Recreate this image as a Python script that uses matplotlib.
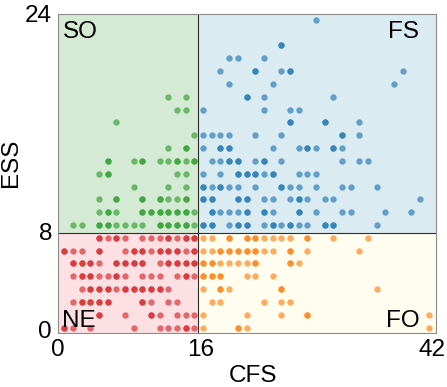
import matplotlib
matplotlib.use("Agg")
import matplotlib.pyplot as plt
from matplotlib.patches import Rectangle
import numpy as np

plt.rcParams['font.family'] = ['Liberation Sans', 'DejaVu Sans']

# rows of (ESS, list of CFS values); a repeated CFS means two people share the point
so_rows = [
    (8, [1, 2, 4, 4, 5, 5, 6, 7, 8, 9, 11, 11, 12, 12, 13, 13, 14, 14, 15]),
    (9, [4, 5, 5, 6, 9, 9, 10, 10, 11, 11, 12, 12, 13, 13, 14, 14, 15]),
    (10, [4, 6, 6, 9, 9, 11, 11, 12, 13, 14, 14]),
    (11, [8, 12, 14]),
    (12, [4, 5, 5, 13, 14]),
    (13, [5, 5, 8, 9, 9, 11, 12, 13, 13, 14, 15, 15]),
    (14, [12, 14, 14]),
    (15, [15]),
    (16, [6]),
    (17, [13, 14]),
    (18, [12, 14]),
]
fs_rows = [
    (8, [16, 16, 17, 17, 19, 20, 20, 21, 21, 23, 24, 24, 25, 26, 26, 27, 28, 30, 30, 31, 31, 36]),
    (9, [17, 17, 18, 19, 20, 21, 21, 23, 23, 24, 27, 27, 29, 32, 33, 37, 40]),
    (10, [16, 16, 17, 17, 20, 20, 21, 21, 23, 24, 26, 27, 27, 28, 30, 31, 41]),
    (11, [16, 16, 17, 18, 18, 19, 20, 22, 25, 25, 26, 27, 29, 32, 33, 36]),
    (12, [16, 18, 20, 20, 21, 21, 22, 22, 23, 24, 24, 27, 28, 29]),
    (13, [17, 18, 19, 19, 20, 20, 22, 23, 23, 25, 32, 34, 35]),
    (14, [16, 18, 18, 19, 19, 24, 27, 28, 28, 29, 31, 31, 32]),
    (15, [16, 17, 18, 19, 22, 25, 32, 32, 34]),
    (16, [26, 26, 30, 30, 34]),
    (17, [16, 23, 26, 27]),
    (18, [21, 21, 23, 31]),
    (19, [19, 24, 38]),
    (20, [18, 22, 22, 25, 26, 26, 39]),
    (21, [19, 20, 23]),
    (22, [25, 25]),
    (24, [29]),
]
ne_rows = [
    (0, [0, 0, 1, 3, 8, 11, 12, 13, 14, 14, 15]),
    (1, [4, 4, 7, 10, 10, 11, 13, 14, 15]),
    (2, [1, 2, 2, 3, 3, 4, 4, 5, 5, 9, 9, 10, 12, 13]),
    (3, [2, 3, 3, 4, 4, 5, 5, 6, 7, 7, 8, 8, 9, 9, 10, 10, 11, 11, 12]),
    (4, [1, 2, 2, 3, 3, 4, 5, 6, 6, 7, 9, 10, 11, 13, 14, 14, 15]),
    (5, [1, 1, 2, 2, 3, 3, 4, 6, 6, 7, 7, 8, 8, 9, 9, 11, 12, 12, 13, 13, 14, 14, 15, 15]),
    (6, [0, 0, 1, 2, 4, 4, 7, 8, 8, 9, 9, 10, 11, 11, 12, 12, 13, 13, 14, 15, 15]),
    (7, [4, 4, 5, 6, 6, 7, 9, 10, 11, 12, 12, 13, 14, 14, 15, 15]),
]
fo_rows = [
    (0, [16, 20, 20, 21, 42]),
    (1, [16, 21, 25, 28, 28, 42]),
    (2, [17, 18, 23, 25, 26]),
    (3, [16, 18, 18, 19, 25, 25, 36]),
    (4, [16, 16, 17, 17, 18, 18, 21, 22, 24]),
    (5, [16, 16, 17, 17, 18, 19, 20, 21, 22, 22, 26, 26, 27]),
    (6, [16, 17, 18, 18, 19, 19, 20, 20, 21, 21, 22, 22, 23, 24, 26, 26, 28, 34]),
    (7, [16, 17, 19, 19, 21, 21, 22, 22, 23, 24, 25, 26, 28, 28, 31, 35]),
]

quadrants = [
    ('SO', so_rows, '#2ca02c', '#d5ead4'),
    ('FS', fs_rows, '#1f77b4', '#dbebf2'),
    ('NE', ne_rows, '#d62728', '#fde0e4'),
    ('FO', fo_rows, '#ff7f0e', '#fffdf0'),
]

x0, x1 = -0.78, 42.78
y0, y1 = -0.42, 24.45
xcut, ycut = 15.46, 7.39

fig = plt.figure(figsize=(4.47, 3.87), dpi=100)
ax = fig.add_axes([57.5 / 447, 1 - 333 / 387, 378 / 447, 319 / 387])
ax.set_xlim(x0, x1)
ax.set_ylim(y0, y1)

# quadrant backgrounds
spans = {
    'SO': (x0, ycut, xcut - x0, y1 - ycut),
    'FS': (xcut, ycut, x1 - xcut, y1 - ycut),
    'NE': (x0, y0, xcut - x0, ycut - y0),
    'FO': (xcut, y0, x1 - xcut, ycut - y0),
}
for name, rows, dot, bg in quadrants:
    rx, ry, rw, rh = spans[name]
    ax.add_patch(Rectangle((rx, ry), rw, rh, facecolor=bg, edgecolor='none', zorder=0))
    cfs = np.array([c for e, cs in rows for c in cs])
    ess = np.array([e for e, cs in rows for c in cs])
    ax.scatter(cfs, ess, s=21, color=dot, alpha=0.65, linewidths=0, zorder=2)

ax.plot([xcut, xcut], [y0, y1], color='#2e2e2e', lw=0.8, zorder=1)
ax.plot([x0, x1], [ycut, ycut], color='#2e2e2e', lw=0.8, zorder=1)

fs = 17.5
ax.text(0.0146, 0.979, 'SO', transform=ax.transAxes, fontsize=fs, ha='left', va='top', zorder=3)
ax.text(0.957, 0.979, 'FS', transform=ax.transAxes, fontsize=fs, ha='right', va='top', zorder=3)
ax.text(0.0127, 0.0198, 'NE', transform=ax.transAxes, fontsize=fs, ha='left', va='baseline', zorder=3)
ax.text(0.959, 0.0198, 'FO', transform=ax.transAxes, fontsize=fs, ha='right', va='baseline', zorder=3)

ax.set_xticks([-0.73, 15.66, 42.39], ['0', '16', '42'])
ax.set_yticks([-0.18, 7.49, 24.45], ['0', '8', '24'])
ax.tick_params(length=0, labelsize=fs, pad=4)

for s in ax.spines.values():
    s.set_color('#8c8c8c')
    s.set_linewidth(0.8)

fig.text(252.5 / 447, 1 - 381.7 / 387, 'CFS', fontsize=fs, ha='center', va='baseline')
fig.text(11 / 447, 1 - 162.5 / 387, 'ESS', fontsize=fs, rotation=90, ha='center', va='center')

fig.savefig('out.png', dpi=100)
